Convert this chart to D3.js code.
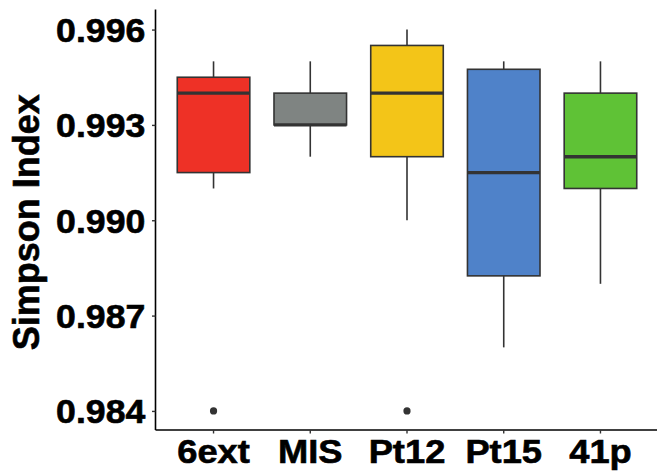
<!DOCTYPE html>
<html>
<head>
<meta charset="utf-8">
<script src="https://cdn.jsdelivr.net/npm/d3@7"></script>
<style>
  html, body { margin: 0; padding: 0; background: #ffffff; }
  svg { display: block; }
  text { font-family: "Liberation Sans", Arial, Helvetica, sans-serif; font-weight: bold; fill: #000; }
  .heavy { stroke: #000; stroke-width: 0.6px; paint-order: stroke; }
</style>
</head>
<body>
<svg id="chart" width="657" height="476"></svg>
<script>
// Groups and their box statistics (Simpson diversity index)
const groups   = ["6ext", "MIS", "Pt12", "Pt15", "41p"];
const lowWhisk = [0.991, 0.992, 0.990, 0.986, 0.988];
const q1       = [0.9915, 0.993, 0.992, 0.98825, 0.991];
const medians  = [0.994, 0.993, 0.994, 0.9915, 0.992];
const q3       = [0.9945, 0.994, 0.9955, 0.99475, 0.994];
const upWhisk  = [0.995, 0.995, 0.996, 0.995, 0.995];
const outliers = [[0.984], [], [0.984], [], []];
const colors   = ["#EE3126", "#7F8482", "#F3C518", "#4F82C9", "#5FC236"];
const yTicks   = [0.984, 0.987, 0.990, 0.993, 0.996];

const svg = d3.select("#chart");
const margin = { left: 155.5, right: -1.5, top: 10.5, bottom: 46 };
const W = 657, H = 476;

const x = d3.scaleBand()
  .domain(groups)
  .range([margin.left, W - margin.right])
  .paddingOuter(0.1)
  .paddingInner(0);

const y = d3.scaleLinear()
  .domain([0.9834, 0.9966])
  .range([H - margin.bottom, margin.top]);

const boxW = x.bandwidth() * 0.75;
const stroke = "#333333";

const rows = groups.map((g, i) => ({
  g, lo: lowWhisk[i], q1: q1[i], med: medians[i], q3: q3[i], hi: upWhisk[i],
  out: outliers[i], color: colors[i]
}));

const cx = d => x(d.g) + x.bandwidth() / 2;
const gBox = svg.append("g");
const item = gBox.selectAll("g.box").data(rows).join("g").attr("class", "box");

// whiskers
item.append("line")
  .attr("x1", cx).attr("x2", cx)
  .attr("y1", d => y(d.hi)).attr("y2", d => y(d.q3))
  .attr("stroke", stroke).attr("stroke-width", 1.6);
item.append("line")
  .attr("x1", cx).attr("x2", cx)
  .attr("y1", d => y(d.q1)).attr("y2", d => y(d.lo))
  .attr("stroke", stroke).attr("stroke-width", 1.6);

// boxes
item.append("rect")
  .attr("x", d => cx(d) - boxW / 2)
  .attr("width", boxW)
  .attr("y", d => y(d.q3))
  .attr("height", d => y(d.q1) - y(d.q3))
  .attr("fill", d => d.color)
  .attr("stroke", stroke).attr("stroke-width", 1.6);

// medians
item.append("line")
  .attr("x1", d => cx(d) - boxW / 2)
  .attr("x2", d => cx(d) + boxW / 2)
  .attr("y1", d => y(d.med)).attr("y2", d => y(d.med))
  .attr("stroke", stroke).attr("stroke-width", 3.4);

// outliers
item.selectAll("circle").data(d => d.out.map(v => ({ g: d.g, v })))
  .join("circle")
  .attr("cx", cx)
  .attr("cy", d => y(d.v))
  .attr("r", 3.6)
  .attr("fill", stroke);

// y axis
const yAxis = svg.append("g")
  .attr("transform", `translate(${margin.left},0)`)
  .call(d3.axisLeft(y).tickValues(yTicks).tickFormat(d3.format(".3f")).tickSize(3.5).tickPadding(6));
yAxis.select(".domain").attr("stroke", "#000").attr("stroke-width", 1.6)
  .attr("d", `M0,${margin.top - 1}V${H - margin.bottom}`);
yAxis.selectAll(".tick line").attr("stroke", "#333").attr("stroke-width", 1.4);
yAxis.selectAll(".tick text")
  .attr("class", "heavy")
  .attr("font-size", 33).attr("font-family", null).attr("fill", "#000")
  .attr("dy", "0.36em")
  .attr("transform", "scale(1.08,1)");

// x axis
const xAxis = svg.append("g")
  .attr("transform", `translate(0,${H - margin.bottom})`)
  .call(d3.axisBottom(x).tickSize(3.5).tickPadding(5).tickSizeOuter(0));
xAxis.select(".domain").attr("stroke", "#000").attr("stroke-width", 1.6)
  .attr("d", `M${margin.left},0H${W}`);
xAxis.selectAll(".tick line").attr("stroke", "#333").attr("stroke-width", 1.4);
xAxis.selectAll(".tick text")
  .attr("class", "heavy")
  .attr("font-size", 33).attr("font-family", null).attr("fill", "#000")
  .attr("dy", "0.73em")
  .attr("transform", "scale(1.1,1)");

// y axis title
svg.append("text")
  .attr("class", "heavy")
  .attr("transform", `translate(39,${(margin.top + H - margin.bottom) / 2 + 2}) rotate(-90)`)
  .attr("text-anchor", "middle")
  .attr("font-size", 36)
  .text("Simpson Index");
</script>
</body>
</html>
